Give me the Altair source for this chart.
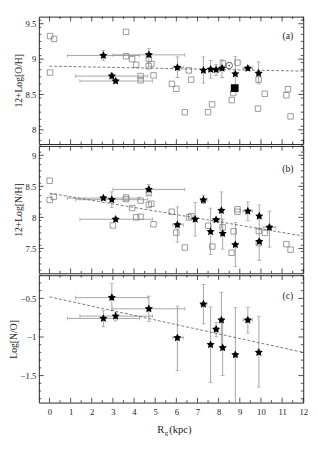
import altair as alt
import pandas as pd

FONT = "Liberation Serif"
W, H = 274, 132
XDOM = [-0.5, 12]
X_MAJOR = [0, 1, 2, 3, 4, 5, 6, 7, 8, 9, 10, 11, 12]
X_MINOR = [0.5, 1.5, 2.5, 3.5, 4.5, 5.5, 6.5, 7.5, 8.5, 9.5, 10.5, 11.5]

# ---------------- panel (a): 12+log(O/H) ----------------
a_sq_x = [0.03, 0.22, 0.03, 3.62, 3.62, 3.91, 4.10, 4.69, 4.70, 4.82, 4.92, 4.31, 4.31,
          5.79, 6.00, 6.40, 6.59, 6.70, 7.50, 7.69, 8.20, 8.89, 8.69, 8.62, 9.89, 9.86,
          10.18, 11.28, 11.20, 11.40]
a_sq_y = [9.325, 9.285, 8.81, 9.385, 9.04, 9.00, 8.92, 8.90, 9.00, 8.93, 8.77, 8.76, 8.70,
          8.65, 8.58, 8.25, 8.84, 8.71, 8.25, 8.36, 8.94, 8.95, 8.52, 8.42, 8.71, 8.30,
          8.51, 8.575, 8.49, 8.19]
a_st_x = [2.55, 2.95, 3.13, 4.70, 6.05, 7.28, 7.62, 7.88, 8.16, 8.79, 9.38, 9.89]
a_st_y = [9.05, 8.76, 8.69, 9.06, 8.88, 8.84, 8.855, 8.85, 8.87, 8.79, 8.87, 8.80]
a_st_ylo = [8.98, 8.72, 8.67, 8.96, 8.74, 8.66, 8.73, 8.77, 8.74, 8.56, 8.85, 8.65]
a_st_yhi = [9.12, 8.80, 8.71, 9.15, 9.03, 9.03, 8.98, 8.92, 8.99, 9.035, 8.89, 8.96]
a_st_xlo = [0.85, 1.24, 1.44, 3.00, 5.83, 7.28, 7.62, 7.75, 8.16, 8.79, 9.15, 9.89]
a_st_xhi = [4.25, 4.65, 4.87, 6.40, 6.33, 7.28, 7.62, 8.01, 8.16, 8.79, 9.60, 9.89]
a_line_x = [0, 12]
a_line_y = [8.90, 8.83]
sun_x = [8.5]
sun_y = [8.91]
big_x = [8.76]
big_y = [8.59]
a_ymaj = [8, 8.5, 9, 9.5]

# ---------------- panel (b): 12+log(N/H) ----------------
b_sq_x = [0.01, 0.01, 0.20, 3.62, 3.62, 4.31, 4.70, 4.70, 4.82, 3.91, 4.10, 4.31, 3.00,
          4.92, 5.78, 6.00, 6.40, 6.60, 6.70, 7.51, 7.70, 8.19, 8.61, 8.71, 8.89, 8.89,
          9.90, 9.90, 10.19, 11.20, 11.40]
b_sq_y = [8.59, 8.28, 8.33, 8.32, 8.295, 8.27, 8.39, 8.20, 8.22, 8.15, 8.00, 8.01, 7.87,
          7.89, 8.09, 7.755, 7.515, 8.00, 8.02, 7.865, 7.53, 7.84, 7.43, 7.775, 8.13, 8.09,
          7.78, 7.585, 7.75, 7.57, 7.48]
b_st_x = [2.55, 2.95, 3.13, 4.70, 6.05, 6.89, 7.28, 7.62, 7.88, 8.13, 8.19, 8.79, 9.38,
          9.92, 9.92, 10.40]
b_st_y = [8.31, 8.285, 7.97, 8.45, 7.88, 7.97, 8.28, 7.77, 7.96, 8.11, 7.74, 7.56, 8.10,
          8.02, 7.61, 7.84]
b_st_ylo = [8.31, 8.16, 7.97, 8.36, 7.60, 7.70, 8.22, 7.40, 7.96, 7.84, 7.49, 7.21, 7.95,
            7.81, 7.31, 7.52]
b_st_yhi = [8.31, 8.41, 7.97, 8.53, 8.17, 8.24, 8.36, 8.15, 7.96, 8.41, 7.97, 7.92, 8.25,
            8.20, 7.81, 8.10]
b_st_xlo = [0.85, 1.24, 1.44, 3.00, 5.83, 6.89, 7.15, 7.62, 7.73, 8.13, 8.19, 8.79, 9.15,
            9.92, 9.92, 10.10]
b_st_xhi = [4.25, 4.65, 4.87, 6.40, 6.33, 6.89, 7.45, 7.62, 8.03, 8.13, 8.19, 8.79, 9.60,
            9.92, 9.92, 10.70]
b_line_x = [0, 12]
b_line_y = [8.39, 7.70]
b_ymaj = [7.5, 8, 8.5, 9]

# ---------------- panel (c): log(N/O) ----------------
c_st_x = [2.55, 2.95, 3.13, 4.70, 6.05, 7.28, 7.62, 7.88, 8.13, 8.19, 8.79, 9.38, 9.90]
c_st_y = [-0.76, -0.49, -0.73, -0.635, -1.01, -0.575, -1.10, -0.90, -0.78, -1.14, -1.23,
          -0.78, -1.20]
c_st_ylo = [-0.87, -0.66, -0.79, -0.80, -1.435, -0.83, -1.59, -1.00, -1.14, -1.50, -1.95,
            -0.95, -1.65]
c_st_yhi = [-0.66, -0.31, -0.68, -0.47, -0.60, -0.32, -0.61, -0.81, -0.42, -0.78, -0.62,
            -0.62, -0.73]
c_st_xlo = [0.85, 1.24, 1.44, 3.00, 5.83, 7.15, 7.62, 7.78, 8.13, 8.19, 8.79, 9.15, 9.90]
c_st_xhi = [4.25, 4.65, 4.87, 6.40, 6.33, 7.45, 7.62, 7.98, 8.13, 8.19, 8.79, 9.60, 9.90]
c_line_x = [0, 12]
c_line_y = [-0.48, -1.20]
c_ymaj = [-1.5, -1, -0.5]

STAR = ("M0,-1L0.294,-0.405L0.951,-0.309L0.476,0.155L0.588,0.809L0,0.5"
        "L-0.588,0.809L-0.476,0.155L-0.951,-0.309L-0.294,-0.405Z")
ERR = "#8c8c8c"
SQ = "#808080"
INK = "#222"
MAJ, MIN = 5, 2.5


def minor_ticks(lo, hi, majors):
    vals = [round(lo + 0.1 * i, 2) for i in range(int(round((hi - lo) / 0.1)) + 1)]
    return [v for v in vals if all(abs(v - m) > 1e-6 for m in majors)]


def make_panel(sq_x, sq_y, st, line_x, line_y, ydom, ymaj, ytitle, label, label_y,
               bottom, extras=()):
    xs = alt.Scale(domain=XDOM, nice=False, zero=False)
    ys = alt.Scale(domain=ydom, nice=False, zero=False)
    if bottom:
        xaxis = alt.Axis(values=X_MAJOR, format="d", ticks=False, domain=False, grid=False,
                         labelPadding=5, title=None, labelFont=FONT, labelFontSize=9,
                         labelColor=INK, labelFlush=False)
    else:
        xaxis = None
    yaxis = alt.Axis(values=ymaj, format="~g", ticks=False, domain=False, grid=False,
                     labelPadding=3, title=ytitle, titleFont=FONT, titleFontSize=10,
                     titleFontWeight="normal", titlePadding=2, titleColor=INK,
                     labelFont=FONT, labelFontSize=9, labelColor=INK)

    def X(f):
        return alt.X(f, type="quantitative", scale=xs, axis=xaxis)

    def Y(f):
        return alt.Y(f, type="quantitative", scale=ys, axis=yaxis)

    layers = []
    if sq_x:
        sq = pd.DataFrame({"x": sq_x, "y": sq_y})
        layers.append(alt.Chart(sq).mark_point(shape="square", filled=False, color=SQ,
                                               size=32, strokeWidth=0.8, opacity=1)
                      .encode(x=X("x"), y=Y("y")))
    h = st[st.xlo < st.xhi]
    v = st[st.ylo < st.yhi]
    layers.append(alt.Chart(h).mark_rule(color=ERR, strokeWidth=0.8, clip=True)
                  .encode(x=X("xlo"), x2="xhi", y=Y("y")))
    layers.append(alt.Chart(v).mark_rule(color=ERR, strokeWidth=0.8, clip=True)
                  .encode(x=X("x"), y=Y("ylo"), y2="yhi"))
    hcap = pd.DataFrame({"x": list(h.xlo) + list(h.xhi), "y": list(h.y) * 2})
    vcap = pd.DataFrame({"x": list(v.x) * 2, "y": list(v.ylo) + list(v.yhi)})
    layers.append(alt.Chart(hcap).mark_tick(orient="vertical", color=ERR, size=4,
                                            thickness=0.8, clip=True)
                  .encode(x=X("x"), y=Y("y")))
    layers.append(alt.Chart(vcap).mark_tick(orient="horizontal", color=ERR, size=4,
                                            thickness=0.8, clip=True)
                  .encode(x=X("x"), y=Y("y")))
    ln = pd.DataFrame({"x": line_x, "y": line_y})
    layers.append(alt.Chart(ln).mark_line(color="#555", strokeWidth=0.8,
                                          strokeDash=[3, 2])
                  .encode(x=X("x"), y=Y("y")))
    layers.extend(e(X, Y) for e in extras)
    layers.append(alt.Chart(st).mark_point(shape=STAR, filled=True, color="black",
                                           size=80, opacity=1)
                  .encode(x=X("x"), y=Y("y")))
    # frame ticks, drawn inwards from each edge
    ymin = minor_ticks(ydom[0] + 0.05, ydom[1] - 0.05, ymaj)
    xmaj_df = pd.DataFrame({"v": X_MAJOR})
    xmin_df = pd.DataFrame({"v": X_MINOR})
    ymaj_df = pd.DataFrame({"v": ymaj})
    ymin_df = pd.DataFrame({"v": ymin})
    for df, L in ((xmaj_df, MAJ), (xmin_df, MIN)):
        layers.append(alt.Chart(df).mark_rule(color=INK, strokeWidth=0.8)
                      .encode(x=X("v"), y=alt.value(0), y2=alt.value(L)))
        layers.append(alt.Chart(df).mark_rule(color=INK, strokeWidth=0.8)
                      .encode(x=X("v"), y=alt.value(H - L), y2=alt.value(H)))
    for df, L in ((ymaj_df, MAJ), (ymin_df, MIN)):
        layers.append(alt.Chart(df).mark_rule(color=INK, strokeWidth=0.8)
                      .encode(y=Y("v"), x=alt.value(0), x2=alt.value(L)))
        layers.append(alt.Chart(df).mark_rule(color=INK, strokeWidth=0.8)
                      .encode(y=Y("v"), x=alt.value(W - L), x2=alt.value(W)))
    one = pd.DataFrame({"t": [0]})
    layers.append(alt.Chart(one).mark_text(text=label, font=FONT, fontSize=10,
                                           color=INK)
                  .encode(x=alt.value(W - 16), y=alt.value(label_y)))
    if bottom:
        cx = W / 2
        layers.append(alt.Chart(one).mark_text(text="R", font=FONT, fontSize=11,
                                               align="right", color=INK)
                      .encode(x=alt.value(cx - 7), y=alt.value(H + 29)))
        layers.append(alt.Chart(one).mark_text(text="g", font=FONT, fontSize=7,
                                               align="left", color=INK)
                      .encode(x=alt.value(cx - 6.5), y=alt.value(H + 32)))
        layers.append(alt.Chart(one).mark_text(text="(kpc)", font=FONT, fontSize=11,
                                               align="left", color=INK)
                      .encode(x=alt.value(cx - 2), y=alt.value(H + 29)))
    return alt.layer(*layers).properties(width=W, height=H)


def stars(x, y, ylo, yhi, xlo, xhi):
    return pd.DataFrame({"x": x, "y": y, "ylo": ylo, "yhi": yhi, "xlo": xlo, "xhi": xhi})


def sun_layer(X, Y):
    d = pd.DataFrame({"x": sun_x, "y": sun_y})
    ring = alt.Chart(d).mark_point(shape="circle", filled=False, color="#333",
                                   size=45, strokeWidth=0.8, opacity=1).encode(x=X("x"), y=Y("y"))
    dot = alt.Chart(d).mark_point(shape="circle", filled=True, color="#333",
                                  size=3, opacity=1).encode(x=X("x"), y=Y("y"))
    return alt.layer(ring, dot)


def big_layer(X, Y):
    d = pd.DataFrame({"x": big_x, "y": big_y})
    return alt.Chart(d).mark_point(shape="square", filled=True, color="black",
                                   size=64, opacity=1).encode(x=X("x"), y=Y("y"))


pa = make_panel(a_sq_x, a_sq_y,
                stars(a_st_x, a_st_y, a_st_ylo, a_st_yhi, a_st_xlo, a_st_xhi),
                a_line_x, a_line_y, [7.8, 9.6], a_ymaj, "12+Log[O/H]", "(a)", 20,
                False, extras=(sun_layer, big_layer))
pb = make_panel(b_sq_x, b_sq_y,
                stars(b_st_x, b_st_y, b_st_ylo, b_st_yhi, b_st_xlo, b_st_xhi),
                b_line_x, b_line_y, [7.1, 9.15], b_ymaj, "12+Log[N/H]", "(b)", 24,
                False)
pc = make_panel([], [],
                stars(c_st_x, c_st_y, c_st_ylo, c_st_yhi, c_st_xlo, c_st_xhi),
                c_line_x, c_line_y, [-1.85, -0.2], c_ymaj, "Log[N/O]", "(c)", 22,
                True)

chart = (alt.vconcat(pa, pb, pc, spacing=0)
         .properties(padding={"left": 0, "top": 0, "right": 2, "bottom": 0})
         .configure_view(stroke=INK, strokeWidth=1))

chart.save("out.html", embed_options={"renderer": "svg", "actions": False})
